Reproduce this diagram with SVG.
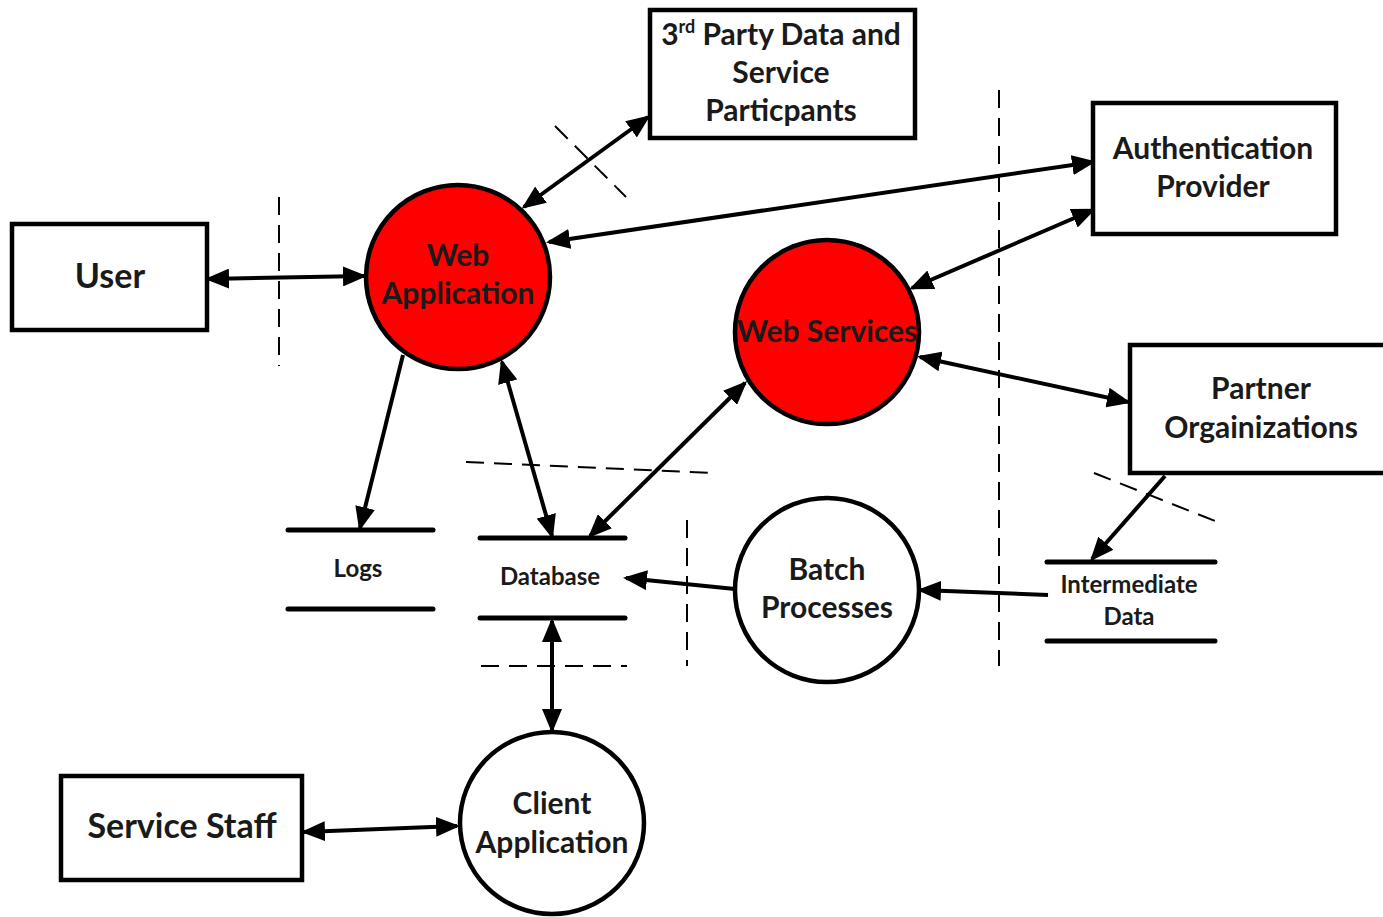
<svg xmlns="http://www.w3.org/2000/svg" width="1383" height="917" viewBox="0 0 1383 917">
<style>
.box{fill:#fff;stroke:#000;stroke-width:4.5}
.proc{stroke:#000;stroke-width:4.5}
.red{fill:#ff0000}
.white{fill:#fff}
.t{font-family:Lato,"Open Sans","Liberation Sans",sans-serif;font-weight:700;font-size:30px;fill:#1a1a1a;text-anchor:middle}
.b{font-size:34px}
.s{font-family:Lato,"Open Sans","Liberation Sans",sans-serif;font-weight:700;font-size:24px;fill:#1a1a1a;text-anchor:middle}
.store{stroke:#000;stroke-width:5;stroke-linecap:round}
.c{stroke:#000;stroke-width:4;fill:none}
.d{stroke:#000;stroke-width:2;stroke-dasharray:18 10;fill:none}
</style>
<defs>
<marker id="ah" markerUnits="userSpaceOnUse" viewBox="0 0 24 20" refX="21" refY="10" markerWidth="24" markerHeight="20" orient="auto-start-reverse">
<path d="M0,0 L24,10 L0,20 z" fill="#000"/>
</marker>
</defs>

<g id="boundaries">
<line class="d" x1="279" y1="197" x2="279" y2="366"/>
<line class="d" x1="555" y1="126" x2="626" y2="197"/>
<line class="d" x1="999" y1="90" x2="999" y2="666"/>
<line class="d" x1="466" y1="462" x2="712" y2="473"/>
<line class="d" x1="687" y1="520" x2="687" y2="666"/>
<line class="d" x1="481" y1="666" x2="627" y2="666"/>
<line class="d" x1="1094" y1="473" x2="1215" y2="521"/>
</g>

<g id="connectors">
<line class="c" x1="208" y1="279" x2="364" y2="276" marker-start="url(#ah)" marker-end="url(#ah)"/>
<line class="c" x1="524" y1="207" x2="648" y2="117" marker-start="url(#ah)" marker-end="url(#ah)"/>
<line class="c" x1="549" y1="242" x2="1093" y2="162" marker-start="url(#ah)" marker-end="url(#ah)"/>
<line class="c" x1="912" y1="288" x2="1093" y2="210" marker-start="url(#ah)" marker-end="url(#ah)"/>
<line class="c" x1="920" y1="357" x2="1128" y2="402" marker-start="url(#ah)" marker-end="url(#ah)"/>
<line class="c" x1="403" y1="355" x2="360" y2="528" marker-end="url(#ah)"/>
<line class="c" x1="502" y1="362" x2="552" y2="536" marker-start="url(#ah)" marker-end="url(#ah)"/>
<line class="c" x1="590" y1="536" x2="745" y2="383" marker-start="url(#ah)" marker-end="url(#ah)"/>
<line class="c" x1="735" y1="589" x2="626" y2="578" marker-end="url(#ah)"/>
<line class="c" x1="1048" y1="595" x2="920" y2="590" marker-end="url(#ah)"/>
<line class="c" x1="1165" y1="476" x2="1092" y2="559" marker-end="url(#ah)"/>
<line class="c" x1="552" y1="621" x2="552" y2="730" marker-start="url(#ah)" marker-end="url(#ah)"/>
<line class="c" x1="304" y1="832" x2="457" y2="826" marker-start="url(#ah)" marker-end="url(#ah)"/>
</g>

<g id="third-party">
<rect class="box" x="650" y="10" width="265" height="128"/>
<text class="t" x="781" y="45">3<tspan font-size="18" dy="-12">rd</tspan><tspan dy="12"> Party Data and</tspan></text>
<text class="t" x="781" y="83">Service</text>
<text class="t" x="781" y="121">Particpants</text>
</g>

<g id="user">
<rect class="box" x="12" y="224" width="195" height="106"/>
<text class="t b" x="110" y="288">User</text>
</g>

<g id="web-application">
<circle class="proc red" cx="458" cy="277" r="92"/>
<text class="t" x="458" y="266">Web</text>
<text class="t" x="458" y="304">Application</text>
</g>

<g id="authentication-provider">
<rect class="box" x="1093" y="103" width="243" height="131"/>
<text class="t" x="1213" y="159">Authentication</text>
<text class="t" x="1213" y="197">Provider</text>
</g>

<g id="web-services">
<circle class="proc red" cx="827" cy="332" r="92"/>
<text class="t" x="827" y="342">Web Services</text>
</g>

<g id="partner-organizations">
<rect class="box" x="1130" y="345" width="262" height="128"/>
<text class="t" x="1261" y="399">Partner</text>
<text class="t" x="1261" y="438">Orgainizations</text>
</g>

<g id="logs">
<line class="store" x1="288" y1="530" x2="433" y2="530"/>
<line class="store" x1="288" y1="609" x2="433" y2="609"/>
<text class="s" x="358" y="577">Logs</text>
</g>

<g id="database">
<line class="store" x1="480" y1="538" x2="625" y2="538"/>
<line class="store" x1="480" y1="618" x2="625" y2="618"/>
<text class="s" x="550" y="585">Database</text>
</g>

<g id="batch-processes">
<circle class="proc white" cx="827" cy="590" r="92"/>
<text class="t" x="827" y="580">Batch</text>
<text class="t" x="827" y="618">Processes</text>
</g>

<g id="intermediate-data">
<line class="store" x1="1047" y1="562" x2="1215" y2="562"/>
<line class="store" x1="1047" y1="641" x2="1215" y2="641"/>
<text class="s" x="1129" y="593">Intermediate</text>
<text class="s" x="1129" y="625">Data</text>
</g>

<g id="client-application">
<ellipse class="proc white" cx="552" cy="823" rx="92" ry="91"/>
<text class="t" x="552" y="814">Client</text>
<text class="t" x="552" y="853">Application</text>
</g>

<g id="service-staff">
<rect class="box" x="61" y="776" width="241" height="104"/>
<text class="t b" x="182" y="838">Service Staff</text>
</g>
</svg>
